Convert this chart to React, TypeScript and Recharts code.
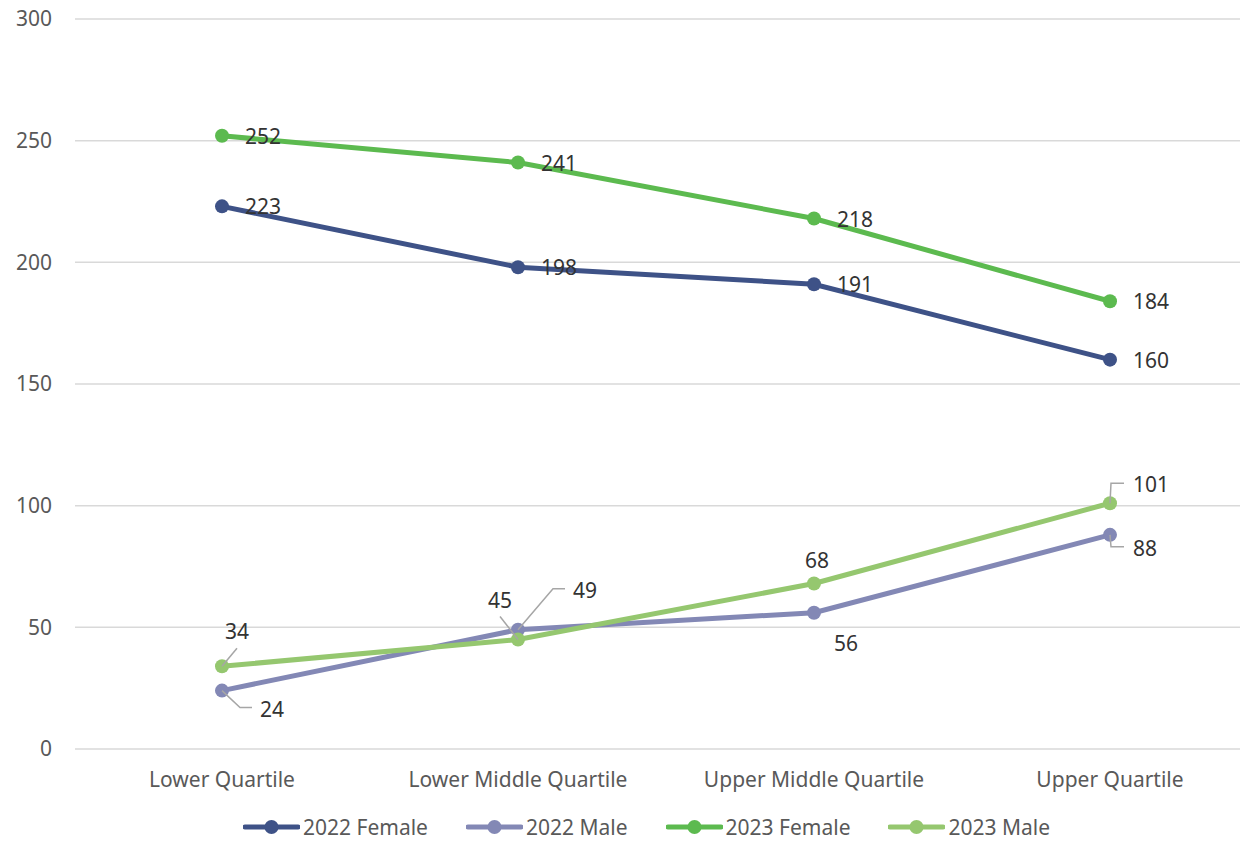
import React from "react";
import { LineChart, Line, XAxis, YAxis, CartesianGrid, Legend, LabelList } from "recharts";

const categories = ["Lower Quartile", "Lower Middle Quartile", "Upper Middle Quartile", "Upper Quartile"];
const female2022 = [223, 198, 191, 160];
const male2022 = [24, 49, 56, 88];
const female2023 = [252, 241, 218, 184];
const male2023 = [34, 45, 68, 101];
const yTicks = [0, 50, 100, 150, 200, 250, 300];

const series = [
  { key: "f2022", name: "2022 Female", values: female2022, color: "#3E5287" },
  { key: "m2022", name: "2022 Male", values: male2022, color: "#8388B5" },
  { key: "f2023", name: "2023 Female", values: female2023, color: "#5CBA4F" },
  { key: "m2023", name: "2023 Male", values: male2023, color: "#95C76F" },
];

const data = categories.map((c, i) => {
  const row: any = { category: c };
  series.forEach((s) => (row[s.key] = s.values[i]));
  return row;
});

// label placement style (offset from point, anchor, leader polyline)
type Place = { dx: number; dy: number; anchor: string; leader?: number[][] };
const right: Place = { dx: 23, dy: 0, anchor: "start" };
const placements: Record<string, Place[]> = {
  f2022: [right, right, right, right],
  f2023: [right, right, right, right],
  m2022: [
    { dx: 38, dy: 18, anchor: "start", leader: [[0, 0], [18, 17], [30, 17]] },
    { dx: 55, dy: -40, anchor: "start", leader: [[0, 0], [35, -41], [47, -41]] },
    { dx: 20, dy: 30, anchor: "start" },
    { dx: 23, dy: 13, anchor: "start", leader: [[0, 0], [1, 12], [14, 12]] },
  ],
  m2023: [
    { dx: 15, dy: -35, anchor: "middle", leader: [[0, 0], [15, -18]] },
    { dx: -18, dy: -40, anchor: "middle", leader: [[0, 0], [-18, -23]] },
    { dx: 3, dy: -24, anchor: "middle" },
    { dx: 23, dy: -19, anchor: "start", leader: [[0, 0], [1, -20], [14, -20]] },
  ],
};

const FONT = "'Noto Sans', sans-serif";

const makeLabel = (key: string) => (props: any) => {
  const { x, y, value, index } = props;
  const p = placements[key][index];
  return (
    <g key={`${key}-${index}`}>
      {p.leader && (
        <polyline
          points={p.leader.map(([a, b]) => `${x + a},${y + b}`).join(" ")}
          fill="none"
          stroke="#A6A6A6"
          strokeWidth={1.5}
        />
      )}
      <text
        x={x + p.dx}
        y={y + p.dy}
        textAnchor={p.anchor as any}
        dominantBaseline="central"
        fontSize={21}
        fontFamily={FONT}
        fill="#333333"
      >
        {value}
      </text>
    </g>
  );
};

const renderLegend = () => (
  <div
    style={{
      display: "flex",
      height: 30,
      alignItems: "center",
      paddingLeft: 243,
      fontFamily: FONT,
      fontSize: 21,
      color: "#595959",
    }}
  >
    {series.map((s) => (
      <div key={s.key} style={{ display: "flex", alignItems: "center", marginRight: 38 }}>
        <svg width={57} height={16} style={{ marginRight: 3 }}>
          <line x1={2} y1={8} x2={55} y2={8} stroke={s.color} strokeWidth={5} strokeLinecap="round" />
          <circle cx={28.5} cy={8} r={7} fill={s.color} />
        </svg>
        <span style={{ lineHeight: "30px", whiteSpace: "nowrap" }}>{s.name}</span>
      </div>
    ))}
  </div>
);

export default function App() {
  return (
    <div style={{ position: "absolute", left: 0, top: 0, width: 1240, height: 842, overflow: "hidden", background: "#fff" }}>
      <LineChart width={1258} height={842} data={data} margin={{ top: 19, right: 0, left: 0, bottom: 0 }}>
        <CartesianGrid vertical={false} stroke="#D9D9D9" strokeWidth={1.5} />
        <XAxis
          dataKey="category"
          scale="point"
          padding={{ left: 147, right: 148 }}
          axisLine={false}
          tickLine={false}
          tickSize={6}
          tickMargin={17}
          height={63}
          interval={0}
          tick={{ fontSize: 21, fontFamily: FONT, fill: "#595959" }}
        />
        <YAxis
          domain={[0, 300]}
          ticks={yTicks}
          width={75}
          axisLine={false}
          tickLine={false}
          tickSize={6}
          tickMargin={17}
          tick={{ fontSize: 21, fontFamily: FONT, fill: "#595959" }}
        />
        <Legend
          verticalAlign="bottom"
          align="left"
          content={renderLegend}
          wrapperStyle={{ left: 0, width: 1240, bottom: 0 }}
        />
        {series.map((s) => (
          <Line
            key={s.key}
            dataKey={s.key}
            name={s.name}
            stroke={s.color}
            strokeWidth={5}
            dot={{ r: 7, fill: s.color, stroke: s.color, strokeWidth: 0 }}
            activeDot={false}
            isAnimationActive={false}
          >
            <LabelList dataKey={s.key} content={makeLabel(s.key)} />
          </Line>
        ))}
      </LineChart>
    </div>
  );
}
